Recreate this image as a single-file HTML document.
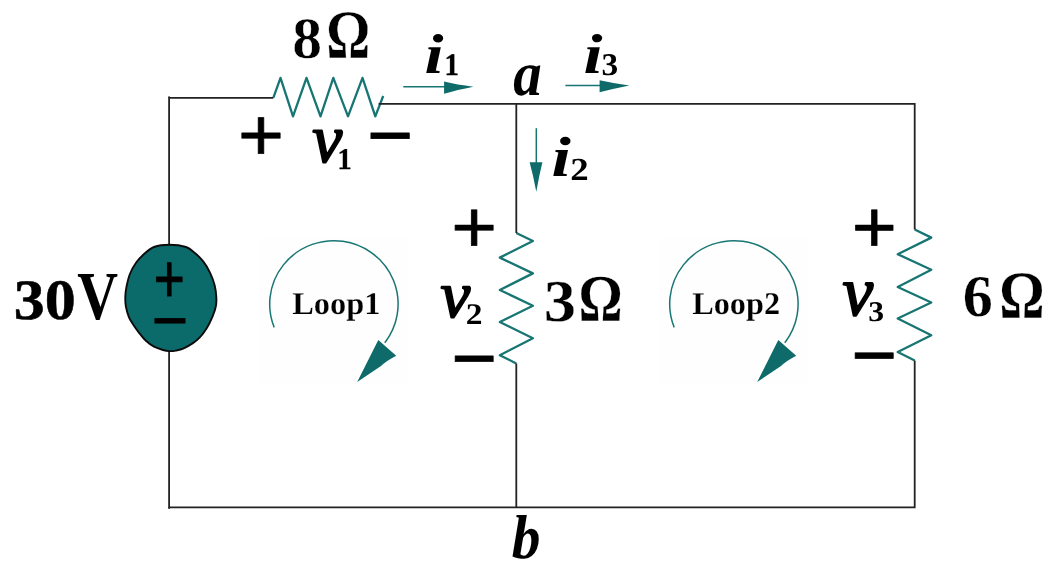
<!DOCTYPE html>
<html lang="en"><head><meta charset="utf-8"><title>Circuit</title>
<style>html,body{margin:0;padding:0;background:#fff;overflow:hidden}svg{display:block;will-change:transform}text{font-family:"Liberation Serif",serif;text-rendering:geometricPrecision}</style>
</head><body>
<svg width="1050" height="567" viewBox="0 0 1050 567">
<rect width="1050" height="567" fill="#fff"/>
<rect x="260" y="238" width="148" height="145" fill="#fefefe"/>
<path d="M274.2 327.4 A64.2 63.4 0 1 1 384.8 342.7" fill="none" stroke="#177673" stroke-width="1.5"/>
<path d="M357.2 382.1 L378.3 340.1 L396.2 355.7 Q386 361 381 366 Z" fill="#0f6a6a"/>
<rect x="660" y="238" width="148" height="145" fill="#fefefe"/>
<path d="M674.2 327.4 A64.2 63.4 0 1 1 784.8 342.7" fill="none" stroke="#177673" stroke-width="1.5"/>
<path d="M757.2 382.1 L778.3 340.1 L796.2 355.7 Q786 361 781 366 Z" fill="#0f6a6a"/>
<g fill="none" stroke="#177673" stroke-width="2.3" stroke-linejoin="round">
<path d="M273.4 97.7 L280.5 77.9 L293.0 116.3 L306.5 77.9 L320.5 116.3 L333.3 77.9 L348.0 116.3 L362.5 77.9 L375.3 116.3 L383.2 96.0"/>
<path d="M516.3 233.0 L532.9 241.0 L499.8 257.6 L532.9 273.4 L499.8 290.0 L532.9 305.7 L499.8 322.0 L532.9 338.3 L499.8 355.2 L516.3 363.5"/>
<path d="M914.7 229.5 L931.3 237.6 L897.7 254.2 L931.3 269.8 L897.7 287.0 L931.3 302.5 L897.7 318.5 L931.3 335.2 L897.7 352.0 L914.7 360.5"/>
</g>
<g fill="none" stroke="#222" stroke-width="1.8" stroke-linecap="butt" stroke-linejoin="miter">
<path d="M273.4 97.8 H169.1 V245"/>
<path d="M169.1 96.2 V98" stroke-width="1.4"/>
<path d="M169.1 351 V507.4 H914.7 V360.5"/>
<path d="M169.1 507 V509" stroke-width="1.4"/>
<path d="M378.6 103.95 H914.7 V229.5"/>
<path d="M516.3 103.95 V233"/>
<path d="M516.3 363.5 V507.4"/>
</g>
<g stroke="#177673" stroke-width="1.5" fill="#0f6a6a">
<path d="M403.3 86.8 H446" fill="none"/>
<path d="M444.1 81.6 Q457 84.8 473.4 86.8 Q457 90 444.1 93.8 Z" stroke="none"/>
<path d="M565.4 85.4 H601" fill="none"/>
<path d="M599.6 80.3 Q613 83.4 629.4 85.4 Q613 88.6 599.6 92.3 Z" stroke="none"/>
<path d="M536.3 128.2 V164" fill="none"/>
<path d="M529.6 162.2 Q533.3 175.5 536.3 191.8 Q539.1 175.5 542.4 162.2 Z" stroke="none"/>
</g>
<path d="M169.6 244.7 C174.9 244.7 181.7 245.6 186.0 247.0 C190.3 248.4 192.3 250.9 195.2 253.3 C198.1 255.7 200.7 258.1 203.2 261.4 C205.7 264.6 208.2 268.8 210.1 272.8 C212.0 276.8 213.7 281.4 214.7 285.4 C215.7 289.4 216.1 293.5 216.3 297.0 C216.5 300.5 216.5 303.2 215.8 306.5 C215.2 309.8 213.9 313.2 212.4 316.8 C210.9 320.4 208.8 324.8 206.7 328.2 C204.6 331.6 202.1 334.9 199.8 337.4 C197.5 339.9 195.6 341.3 192.9 343.1 C190.2 344.9 186.6 347.1 183.7 348.3 C180.8 349.6 178.1 350.1 175.7 350.6 C173.3 351.1 171.5 351.2 169.4 351.1 C167.3 351.0 165.7 350.8 163.1 350.0 C160.5 349.2 156.9 348.1 154.0 346.6 C151.1 345.1 148.4 343.1 145.9 340.8 C143.4 338.5 141.2 335.5 139.1 332.8 C137.0 330.1 135.0 327.5 133.3 324.8 C131.6 322.1 130.0 319.9 128.8 316.8 C127.6 313.8 126.5 309.8 125.9 306.5 C125.3 303.2 125.2 300.3 125.3 297.0 C125.4 293.7 125.7 290.4 126.5 286.6 C127.3 282.8 128.3 278.0 129.9 274.0 C131.5 270.0 133.9 265.8 136.2 262.5 C138.5 259.2 140.6 257.1 143.6 254.5 C146.6 251.9 149.7 248.6 154.0 247.0 C158.3 245.4 164.3 244.7 169.6 244.7Z" fill="#0b6b6b" stroke="#0c0c0c" stroke-width="1.9" stroke-linejoin="round"/>
<text fill="#000"><tspan x="292.19" y="58" font-family="'Liberation Serif', serif" font-weight="bold" font-style="normal" font-size="58.75" textLength="29.79" lengthAdjust="spacingAndGlyphs" stroke="#fff" stroke-width="0.5" stroke-linejoin="round">8</tspan><tspan x="326.15" y="58" font-family="'Liberation Serif', serif" font-weight="bold" font-style="normal" font-size="69.56" textLength="44.07" lengthAdjust="spacingAndGlyphs" stroke="#fff" stroke-width="0.5" stroke-linejoin="round">Ω</tspan></text>
<text fill="#000"><tspan x="424.40" y="73" font-family="'Liberation Serif', serif" font-weight="bold" font-style="italic" font-size="56.19" textLength="19.06" lengthAdjust="spacingAndGlyphs">i</tspan><tspan x="444.49" y="75" font-family="'Liberation Serif', serif" font-weight="bold" font-style="normal" font-size="31.46" textLength="14.39" lengthAdjust="spacingAndGlyphs" stroke="#000" stroke-width="0.4" stroke-linejoin="round">1</tspan></text>
<text fill="#000"><tspan x="513.23" y="95" font-family="'Liberation Serif', serif" font-weight="bold" font-style="italic" font-size="63.45" textLength="28.43" lengthAdjust="spacingAndGlyphs">a</tspan></text>
<text fill="#000"><tspan x="583.47" y="73" font-family="'Liberation Serif', serif" font-weight="bold" font-style="italic" font-size="56.36" textLength="19.06" lengthAdjust="spacingAndGlyphs">i</tspan><tspan x="601.56" y="75" font-family="'Liberation Serif', serif" font-weight="bold" font-style="normal" font-size="31.63" textLength="16.69" lengthAdjust="spacingAndGlyphs">3</tspan></text>
<text fill="#000"><tspan x="237.97" y="160" font-family="'Liberation Sans', sans-serif" font-weight="normal" font-style="normal" font-size="73.45" textLength="46.03" lengthAdjust="spacingAndGlyphs" stroke="#000" stroke-width="0.7" stroke-linejoin="round">+</tspan></text>
<text fill="#000"><tspan x="312.29" y="162" font-family="'Liberation Serif', serif" font-weight="normal" font-style="italic" font-size="68.92" textLength="30.01" lengthAdjust="spacingAndGlyphs" stroke="#000" stroke-width="1.9" stroke-linejoin="round">v</tspan><tspan x="337.51" y="169" font-family="'Liberation Serif', serif" font-weight="bold" font-style="normal" font-size="30.14" textLength="14.14" lengthAdjust="spacingAndGlyphs" stroke="#000" stroke-width="0.4" stroke-linejoin="round">1</tspan></text>
<text fill="#000"><tspan x="367.04" y="163" font-family="'Liberation Sans', sans-serif" font-weight="normal" font-style="normal" font-size="81.80" textLength="46.19" lengthAdjust="spacingAndGlyphs" stroke="#000" stroke-width="0.7" stroke-linejoin="round">−</tspan></text>
<text fill="#000"><tspan x="551.55" y="176" font-family="'Liberation Serif', serif" font-weight="bold" font-style="italic" font-size="56.67" textLength="19.33" lengthAdjust="spacingAndGlyphs">i</tspan><tspan x="570.19" y="180" font-family="'Liberation Serif', serif" font-weight="bold" font-style="normal" font-size="32.09" textLength="18.44" lengthAdjust="spacingAndGlyphs">2</tspan></text>
<text fill="#000"><tspan x="451.37" y="252" font-family="'Liberation Sans', sans-serif" font-weight="normal" font-style="normal" font-size="73.24" textLength="45.80" lengthAdjust="spacingAndGlyphs" stroke="#000" stroke-width="0.7" stroke-linejoin="round">+</tspan></text>
<text fill="#000"><tspan x="440.44" y="317" font-family="'Liberation Serif', serif" font-weight="normal" font-style="italic" font-size="66.24" textLength="29.69" lengthAdjust="spacingAndGlyphs" stroke="#000" stroke-width="1.9" stroke-linejoin="round">v</tspan><tspan x="465.80" y="324" font-family="'Liberation Serif', serif" font-weight="bold" font-style="normal" font-size="30.01" textLength="16.76" lengthAdjust="spacingAndGlyphs">2</tspan></text>
<text fill="#000"><tspan x="451.33" y="386" font-family="'Liberation Sans', sans-serif" font-weight="normal" font-style="normal" font-size="81.75" textLength="45.78" lengthAdjust="spacingAndGlyphs" stroke="#000" stroke-width="0.7" stroke-linejoin="round">−</tspan></text>
<text fill="#000"><tspan x="543.82" y="321" font-family="'Liberation Serif', serif" font-weight="bold" font-style="normal" font-size="59.21" textLength="32.27" lengthAdjust="spacingAndGlyphs" stroke="#fff" stroke-width="0.3" stroke-linejoin="round">3</tspan><tspan x="578.55" y="321" font-family="'Liberation Serif', serif" font-weight="bold" font-style="normal" font-size="67.00" textLength="44.11" lengthAdjust="spacingAndGlyphs" stroke="#fff" stroke-width="0.3" stroke-linejoin="round">Ω</tspan></text>
<text fill="#000"><tspan x="851.89" y="252" font-family="'Liberation Sans', sans-serif" font-weight="normal" font-style="normal" font-size="73.17" textLength="45.12" lengthAdjust="spacingAndGlyphs" stroke="#000" stroke-width="0.7" stroke-linejoin="round">+</tspan></text>
<text fill="#000"><tspan x="842.57" y="315" font-family="'Liberation Serif', serif" font-weight="normal" font-style="italic" font-size="69.64" textLength="30.59" lengthAdjust="spacingAndGlyphs" stroke="#000" stroke-width="1.9" stroke-linejoin="round">v</tspan><tspan x="868.26" y="321" font-family="'Liberation Serif', serif" font-weight="bold" font-style="normal" font-size="28.65" textLength="15.85" lengthAdjust="spacingAndGlyphs">3</tspan></text>
<text fill="#000"><tspan x="851.13" y="382" font-family="'Liberation Sans', sans-serif" font-weight="normal" font-style="normal" font-size="79.34" textLength="45.85" lengthAdjust="spacingAndGlyphs" stroke="#000" stroke-width="0.7" stroke-linejoin="round">−</tspan></text>
<text fill="#000"><tspan x="962.86" y="316" font-family="'Liberation Serif', serif" font-weight="bold" font-style="normal" font-size="59.09" textLength="30.05" lengthAdjust="spacingAndGlyphs" stroke="#fff" stroke-width="0.3" stroke-linejoin="round">6</tspan><tspan x="999.22" y="318" font-family="'Liberation Serif', serif" font-weight="bold" font-style="normal" font-size="67.94" textLength="45.39" lengthAdjust="spacingAndGlyphs" stroke="#fff" stroke-width="0.3" stroke-linejoin="round">Ω</tspan></text>
<text fill="#000"><tspan x="13.71" y="319" font-family="'Liberation Serif', serif" font-weight="bold" font-style="normal" font-size="56.97" textLength="62.01" lengthAdjust="spacingAndGlyphs" stroke="#000" stroke-width="0.5" stroke-linejoin="round">30</tspan><tspan x="77.19" y="319" font-family="'Liberation Serif', serif" font-weight="bold" font-style="normal" font-size="68.61" textLength="40.80" lengthAdjust="spacingAndGlyphs">V</tspan></text>
<text fill="#000"><tspan x="153.74" y="302" font-family="'Liberation Sans', sans-serif" font-weight="normal" font-style="normal" font-size="68.00" textLength="31.04" lengthAdjust="spacingAndGlyphs" stroke="#000" stroke-width="1.0" stroke-linejoin="round">+</tspan></text>
<text fill="#000"><tspan x="151.68" y="343" font-family="'Liberation Sans', sans-serif" font-weight="normal" font-style="normal" font-size="66.95" textLength="36.37" lengthAdjust="spacingAndGlyphs" stroke="#000" stroke-width="0.7" stroke-linejoin="round">−</tspan></text>
<text fill="#000"><tspan x="292.24" y="314" font-family="'Liberation Serif', serif" font-weight="bold" font-style="normal" font-size="31.75" textLength="88.13" lengthAdjust="spacingAndGlyphs" stroke="#fff" stroke-width="0.2" stroke-linejoin="round">Loop1</tspan></text>
<text fill="#000"><tspan x="692.16" y="314" font-family="'Liberation Serif', serif" font-weight="bold" font-style="normal" font-size="31.62" textLength="87.93" lengthAdjust="spacingAndGlyphs" stroke="#fff" stroke-width="0.2" stroke-linejoin="round">Loop2</tspan></text>
<text fill="#000"><tspan x="511.80" y="558" font-family="'Liberation Serif', serif" font-weight="bold" font-style="italic" font-size="61.92" textLength="28.71" lengthAdjust="spacingAndGlyphs">b</tspan></text>
</svg>
</body></html>
